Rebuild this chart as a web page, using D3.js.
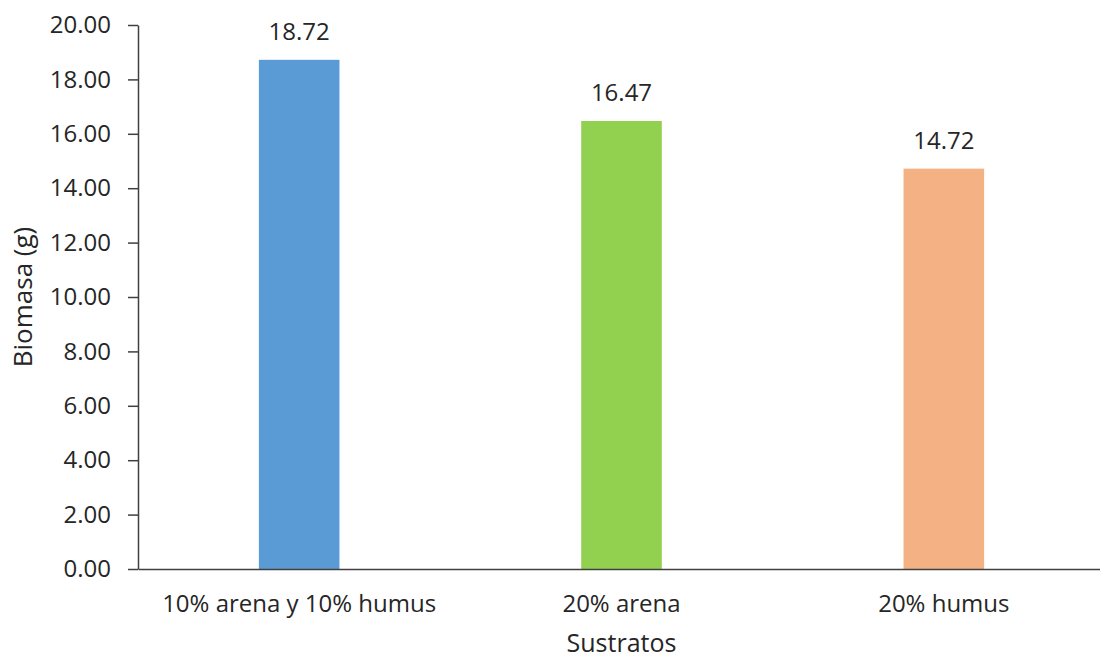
<!DOCTYPE html>
<html>
<head>
<meta charset="utf-8">
<script src="https://cdn.jsdelivr.net/npm/d3@7"></script>
<style>
  html, body { margin: 0; padding: 0; background: #fff; }
  svg { display: block; }
  text { font-family: "Open Sans", "Liberation Sans", sans-serif; fill: #262626; }
</style>
</head>
<body>
<svg id="chart" width="1100" height="660"></svg>
<script>
// Biomass per substrate
const categories = ["10% arena y 10% humus", "20% arena", "20% humus"];
const biomasa = [18.72, 16.47, 14.72];
const barColors = ["#5B9BD5", "#92D050", "#F4B183"];
const yTicks = [0, 2, 4, 6, 8, 10, 12, 14, 16, 18, 20];

const svg = d3.select("#chart");
const margin = { left: 138, right: -5, top: 25, bottom: 91 };
const W = 1100, H = 660;

const x = d3.scaleBand()
  .domain(categories)
  .range([margin.left, W - margin.right])
  .paddingInner(0.75)
  .paddingOuter(0.375);

const y = d3.scaleLinear()
  .domain([0, 20])
  .range([H - margin.bottom, margin.top]);

// bars
svg.append("g").selectAll("rect")
  .data(categories)
  .join("rect")
  .attr("x", d => x(d))
  .attr("width", x.bandwidth())
  .attr("y", (d, i) => y(biomasa[i]))
  .attr("height", (d, i) => y(0) - y(biomasa[i]))
  .attr("fill", (d, i) => barColors[i]);

// value labels
svg.append("g").selectAll("text")
  .data(categories)
  .join("text")
  .attr("x", d => x(d) + x.bandwidth() / 2)
  .attr("y", (d, i) => y(biomasa[i]) - 20)
  .attr("text-anchor", "middle")
  .style("font-size", "24px")
  .text((d, i) => biomasa[i].toFixed(2));

// y axis
const yAxis = svg.append("g")
  .attr("transform", `translate(${margin.left},0)`)
  .call(d3.axisLeft(y).tickValues(yTicks).tickFormat(d3.format(".2f")).tickSize(10).tickSizeOuter(0).tickPadding(17));
yAxis.select(".domain").attr("stroke", "#404040").attr("stroke-width", 1.5);
yAxis.selectAll(".tick line").attr("stroke", "#404040").attr("stroke-width", 1.5);
yAxis.selectAll(".tick text")
  .style("font-size", "24px")
  .style("font-family", "\"Open Sans\", sans-serif")
  .attr("fill", "#262626");

// x axis
const xAxis = svg.append("g")
  .attr("transform", `translate(0,${y(0)})`)
  .call(d3.axisBottom(x).tickSize(0).tickPadding(26));
xAxis.select(".domain").attr("stroke", "#404040").attr("stroke-width", 1.5);
xAxis.selectAll(".tick text")
  .style("font-size", "24px")
  .style("font-family", "\"Open Sans\", sans-serif")
  .attr("fill", "#262626");

// axis titles
svg.append("text")
  .attr("transform", `translate(32,${(y(0) + y(20)) / 2}) rotate(-90)`)
  .attr("text-anchor", "middle")
  .style("font-size", "26px")
  .text("Biomasa (g)");

svg.append("text")
  .attr("x", x(categories[1]) + x.bandwidth() / 2)
  .attr("y", 652)
  .attr("text-anchor", "middle")
  .style("font-size", "25px")
  .text("Sustratos");
</script>
</body>
</html>
